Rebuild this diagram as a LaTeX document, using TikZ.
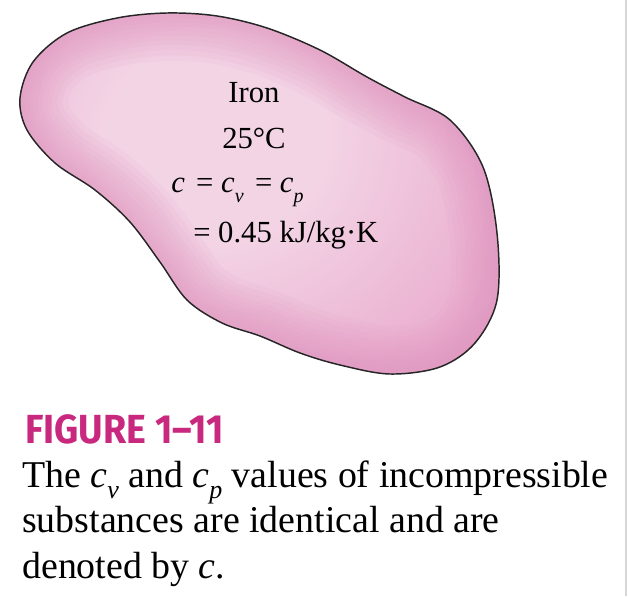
\documentclass[tikz,border=0pt]{standalone}
\usepackage{fontspec}
\setmainfont{Liberation Serif}
\newfontfamily\figfont{Fira Sans}
\definecolor{pinkL}{HTML}{F3D4E5}
\definecolor{pinkM}{HTML}{EBB3D2}
\definecolor{pinkD}{HTML}{E59FC6}
\definecolor{pinkE}{HTML}{E194BF}
\definecolor{figmag}{RGB}{200,40,125}
\definecolor{edgegray}{HTML}{D6D6D6}
\pgfdeclareradialshading{blobshade}{\pgfpoint{0bp}{0bp}}{color(0bp)=(pinkL); color(8bp)=(pinkL); color(21bp)=(pinkM); color(32bp)=(pinkD); color(50bp)=(pinkD)}
\newcommand\blobsub[1]{\raisebox{-0.33em}{\fontsize{15pt}{15pt}\selectfont\itshape #1}}
\newcommand\capsub[1]{\raisebox{-0.3em}{\fontsize{19.5pt}{19.5pt}\selectfont\itshape #1}}
\tikzset{
  blobtext/.style={inner sep=0pt, anchor=base, font=\fontsize{23pt}{23pt}\selectfont},
  blobtextl/.style={blobtext, anchor=base west},
  captext/.style={inner sep=0pt, anchor=base west, font=\fontsize{28.4pt}{28.4pt}\selectfont},
  figtitle/.style={inner sep=0pt, anchor=base west, text=figmag, font=\fontsize{30.5pt}{30.5pt}\figfont\bfseries},
  outline/.style={draw=black!85, line width=1.1pt},
  glow/.style={draw=pinkE, opacity=0.085, line join=round}
}
\begin{document}
\begin{tikzpicture}[x=0.75pt,y=-0.75pt]
\useasboundingbox (0,0) rectangle (628,596);
\def\blobpath{plot[smooth cycle, tension=0.55] coordinates {
 (117,18) (167,13) (217,16) (267,28) (320,50) (367,77) (405,97) (450,120)
 (483,167) (497,233) (497,300) (475,343) (440,367) (390,374) (340,365)
 (300,353) (260,336) (222,323) (187,300) (160,262) (130,222) (95,190)
 (55,163) (27,130) (20,98) (33,62) (67,33)}}
\begin{scope}
  \clip \blobpath;
  \fill[pinkD] (0,0) rectangle (628,400);
  \shade[shading=blobshade] (215,140) ellipse (340 and 310);
  \foreach \w in {72,64,56,48,41,34,27,20,14,8}{
    \draw[glow, line width=\w pt] \blobpath;
  }
\end{scope}
\draw[outline] \blobpath;
\draw[edgegray, line width=1.5pt] (626,0) -- (626,596);
\node[blobtext] (iron) at (254,102) {Iron};
\node[blobtext] (temp) at (254,148) {25°C};
\node[blobtextl] (eq1) at (171,192) {\textit{c}\hspace{0.12em} = \textit{c}\blobsub{v}\hspace{0.12em} = \textit{c}\blobsub{p}};
\node[blobtextl] (eq2) at (193,242) {= 0.45 kJ/kg·K};
\node[figtitle] (fig) at (25,443) {\scalebox{0.925}[1]{FIGURE 1–11}};
\node[captext] (cap1) at (22,487) {The \textit{c}\capsub{v} and \textit{c}\capsub{p} values of incompressible};
\node[captext] (cap2) at (22,532) {substances are identical and are};
\node[captext] (cap3) at (22,578) {denoted by \textit{c}.};
\end{tikzpicture}
\end{document}
